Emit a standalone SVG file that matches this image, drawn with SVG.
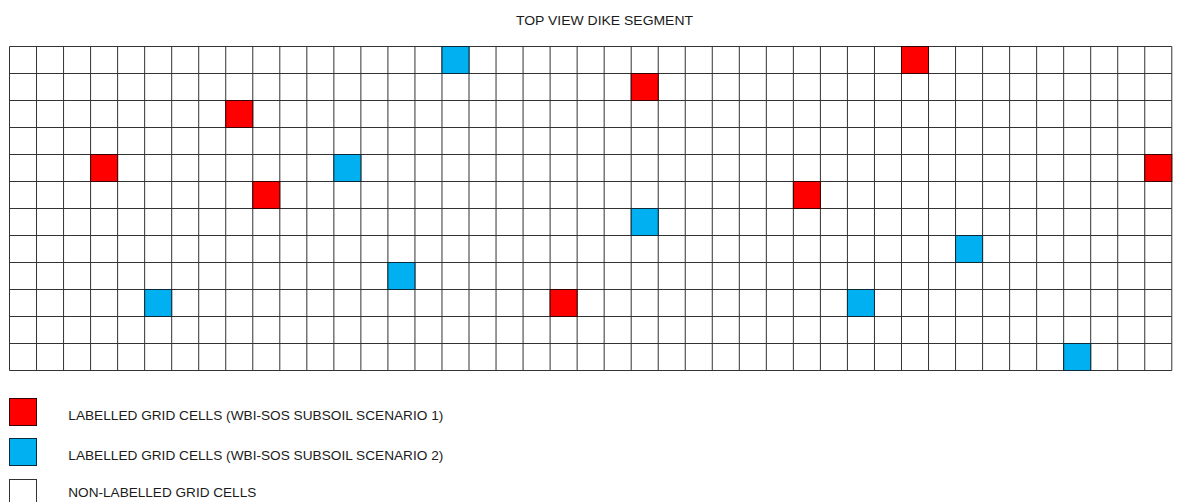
<svg xmlns="http://www.w3.org/2000/svg" width="1189" height="502" viewBox="0 0 1189 502">
<style>
.bg{fill:#ffffff}
.grid{fill:none;stroke:#333333;stroke-width:1}
.s1{fill:#ff0000;stroke:#3a0000;stroke-width:1}
.s2{fill:#00b0f0;stroke:#0a2a3a;stroke-width:1}
.s0{fill:#ffffff;stroke:#333333;stroke-width:1}
.t{font-family:"Liberation Sans",Arial,sans-serif;font-size:13.5px;fill:#1a1a1a}
</style>
<rect class="bg" x="0" y="0" width="1189" height="502"/>
<g id="title"><text class="t" x="516" y="25" textLength="177" lengthAdjust="spacingAndGlyphs">TOP VIEW DIKE SEGMENT</text></g>
<g id="grid">
<path class="grid" d="M9.5 46.5V370.5M36.53 46.5V370.5M63.56 46.5V370.5M90.59 46.5V370.5M117.62 46.5V370.5M144.65 46.5V370.5M171.68 46.5V370.5M198.71 46.5V370.5M225.74 46.5V370.5M252.77 46.5V370.5M279.8 46.5V370.5M306.83 46.5V370.5M333.86 46.5V370.5M360.89 46.5V370.5M387.92 46.5V370.5M414.95 46.5V370.5M441.98 46.5V370.5M469.01 46.5V370.5M496.04 46.5V370.5M523.07 46.5V370.5M550.1 46.5V370.5M577.13 46.5V370.5M604.16 46.5V370.5M631.19 46.5V370.5M658.22 46.5V370.5M685.25 46.5V370.5M712.28 46.5V370.5M739.31 46.5V370.5M766.34 46.5V370.5M793.37 46.5V370.5M820.4 46.5V370.5M847.43 46.5V370.5M874.46 46.5V370.5M901.49 46.5V370.5M928.52 46.5V370.5M955.55 46.5V370.5M982.58 46.5V370.5M1009.61 46.5V370.5M1036.64 46.5V370.5M1063.67 46.5V370.5M1090.7 46.5V370.5M1117.73 46.5V370.5M1144.76 46.5V370.5M1171.79 46.5V370.5M9.5 46.5H1171.79M9.5 73.5H1171.79M9.5 100.5H1171.79M9.5 127.5H1171.79M9.5 154.5H1171.79M9.5 181.5H1171.79M9.5 208.5H1171.79M9.5 235.5H1171.79M9.5 262.5H1171.79M9.5 289.5H1171.79M9.5 316.5H1171.79M9.5 343.5H1171.79M9.5 370.5H1171.79"/>
</g>
<g id="scenario1-cells">
<rect class="s1" x="901.49" y="46.5" width="27.03" height="27"/>
<rect class="s1" x="631.19" y="73.5" width="27.03" height="27"/>
<rect class="s1" x="225.74" y="100.5" width="27.03" height="27"/>
<rect class="s1" x="90.59" y="154.5" width="27.03" height="27"/>
<rect class="s1" x="1144.76" y="154.5" width="27.03" height="27"/>
<rect class="s1" x="252.77" y="181.5" width="27.03" height="27"/>
<rect class="s1" x="793.37" y="181.5" width="27.03" height="27"/>
<rect class="s1" x="550.1" y="289.5" width="27.03" height="27"/>
</g>
<g id="scenario2-cells">
<rect class="s2" x="441.98" y="46.5" width="27.03" height="27"/>
<rect class="s2" x="333.86" y="154.5" width="27.03" height="27"/>
<rect class="s2" x="631.19" y="208.5" width="27.03" height="27"/>
<rect class="s2" x="955.55" y="235.5" width="27.03" height="27"/>
<rect class="s2" x="387.92" y="262.5" width="27.03" height="27"/>
<rect class="s2" x="144.65" y="289.5" width="27.03" height="27"/>
<rect class="s2" x="847.43" y="289.5" width="27.03" height="27"/>
<rect class="s2" x="1063.67" y="343.5" width="27.03" height="27"/>
</g>
<g id="legend-1">
<rect class="s1" x="9.5" y="398.5" width="27" height="27"/>
<text class="t" x="68.3" y="420" textLength="375" lengthAdjust="spacingAndGlyphs">LABELLED GRID CELLS (WBI-SOS SUBSOIL SCENARIO 1)</text>
</g>
<g id="legend-2">
<rect class="s2" x="9.5" y="438.5" width="27" height="27"/>
<text class="t" x="68.3" y="460" textLength="375" lengthAdjust="spacingAndGlyphs">LABELLED GRID CELLS (WBI-SOS SUBSOIL SCENARIO 2)</text>
</g>
<g id="legend-0">
<rect class="s0" x="9.5" y="479.5" width="27" height="27"/>
<text class="t" x="68.3" y="497" textLength="188" lengthAdjust="spacingAndGlyphs">NON-LABELLED GRID CELLS</text>
</g>
</svg>
